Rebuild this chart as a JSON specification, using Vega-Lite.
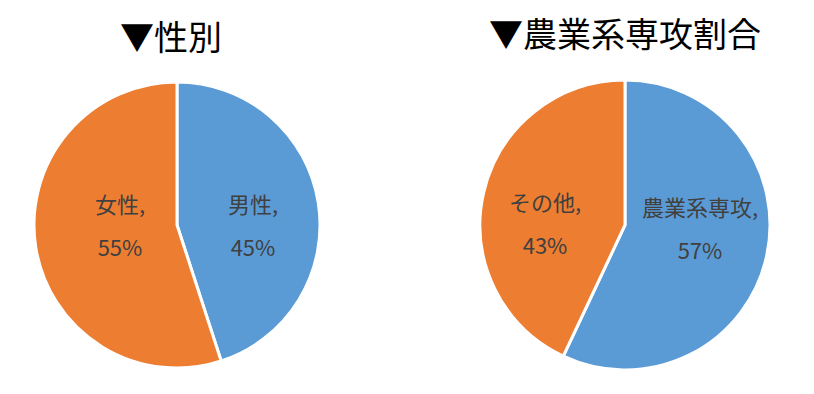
{
  "$schema": "https://vega.github.io/schema/vega-lite/v6.json",
  "padding": {"left": 0, "top": 20, "right": 0, "bottom": 0},
  "background": "white",
  "spacing": 82,
  "config": {
    "view": {"stroke": null},
    "title": {"font": "Noto Sans CJK JP", "fontSize": 34, "fontWeight": "normal", "color": "#000000", "anchor": "middle"},
    "text": {"font": "Noto Sans CJK JP"}
  },
  "hconcat": [
    {
      "title": {"text": "▼性別", "offset": 18, "dx": -6},
      "width": 354,
      "height": 300,
      "data": {"values": [
        {"name": "男性", "value": 45, "order": 1},
        {"name": "女性", "value": 55, "order": 2}
      ]},
      "transform": [{"calculate": "datum.name + ',\\n' + datum.value + '%'", "as": "label"}],
      "encoding": {
        "order": {"field": "order", "type": "quantitative"},
        "color": {"field": "name", "type": "nominal", "scale": {"domain": ["男性", "女性"], "range": ["#5B9BD5", "#ED7D31"]}, "legend": null}
      },
      "resolve": {"scale": {"theta": "independent"}},
      "layer": [
        {"mark": {"type": "arc", "outerRadius": 143, "stroke": "#ffffff", "strokeWidth": 3},
         "encoding": {"theta": {"field": "value", "type": "quantitative", "stack": true}}},
        {"mark": {"type": "text", "radius": 66.5, "fontSize": 22, "lineBreak": "\n", "lineHeight": 43, "baseline": "middle", "dy": -19, "dx": 9.5},
         "encoding": {
           "theta": {"field": "value", "type": "quantitative", "stack": true, "scale": {"range": [0.157, 6.440]}},
           "text": {"field": "label", "type": "nominal"}, "color": {"value": "#404040"}}}
      ]
    },
    {
      "title": {"text": "▼農業系専攻割合", "offset": 20},
      "width": 378,
      "height": 300,
      "data": {"values": [
        {"name": "農業系専攻", "value": 57, "order": 1},
        {"name": "その他", "value": 43, "order": 2}
      ]},
      "transform": [{"calculate": "datum.name + ',\\n' + datum.value + '%'", "as": "label"}],
      "encoding": {
        "order": {"field": "order", "type": "quantitative"},
        "color": {"field": "name", "type": "nominal", "scale": {"domain": ["農業系専攻", "その他"], "range": ["#5B9BD5", "#ED7D31"]}, "legend": null}
      },
      "resolve": {"scale": {"theta": "independent"}},
      "layer": [
        {"mark": {"type": "arc", "outerRadius": 145, "stroke": "#ffffff", "strokeWidth": 3},
         "encoding": {"theta": {"field": "value", "type": "quantitative", "stack": true}}},
        {"mark": {"type": "text", "radius": 77.5, "fontSize": 22, "lineBreak": "\n", "lineHeight": 43, "baseline": "middle", "dy": -18.5, "dx": -2.5},
         "encoding": {
           "theta": {"field": "value", "type": "quantitative", "stack": true, "scale": {"range": [-0.192, 6.091]}},
           "text": {"field": "label", "type": "nominal"}, "color": {"value": "#404040"}}}
      ]
    }
  ]
}
